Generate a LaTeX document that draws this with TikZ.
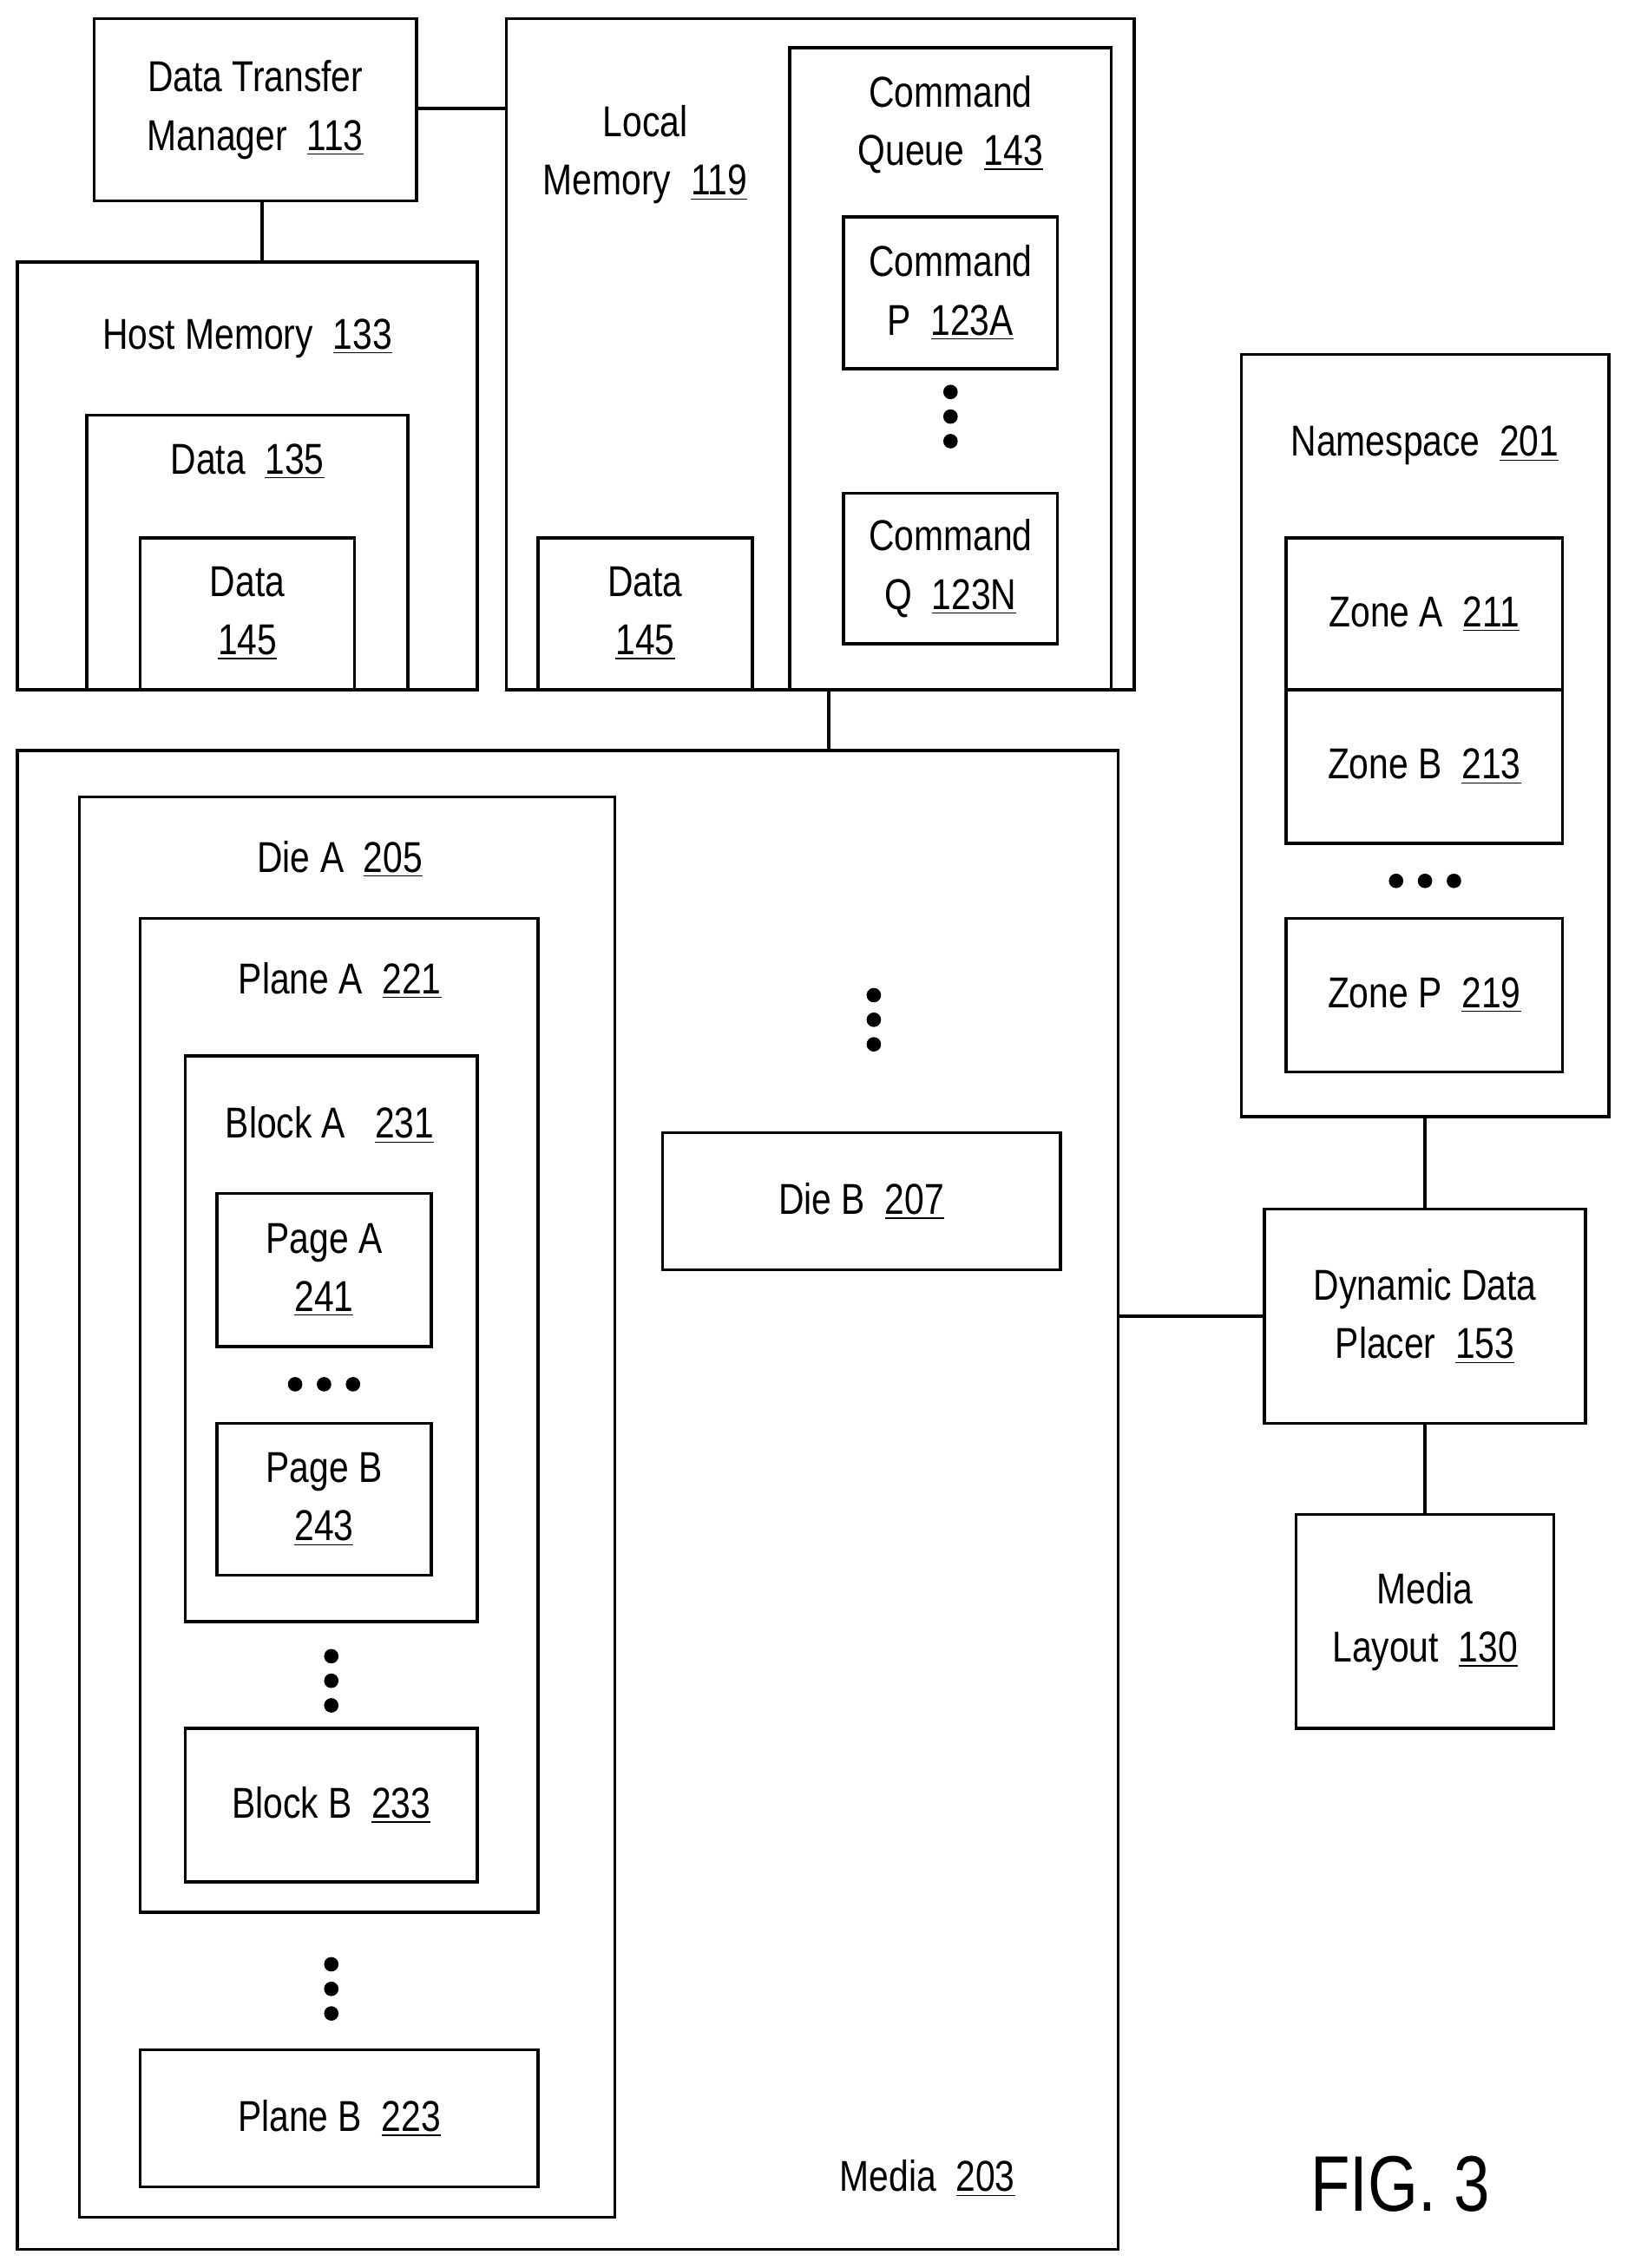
\documentclass[tikz,border=0pt]{standalone}
\usepackage{fontspec}
\setmainfont{Liberation Sans}[FakeStretch=0.82]
\usepackage{tikz}
\usetikzlibrary{positioning}
\tikzstyle{blk} = [draw, line width=1.2pt, inner sep=0pt]
\tikzstyle{lbl} = [align=center, inner sep=0pt, font=\fontsize{17}{23}\selectfont]
\tikzstyle{line} = [draw, line width=1.2pt]
\newcommand{\refnum}[1]{\underline{#1}}
% box by its corners (in px of the reference)
\newcommand{\blk}[5]{
  \node (#1) [blk, minimum width={(#4-#2)*0.02cm}, minimum height={(#5-#3)*0.02cm}]
    at ({(#2+#4)/2},{(#3+#5)/2}) {};}
\newcommand{\vdotsat}[2]{
  \foreach \d in {-17,0,17} \fill (#1,#2+\d) circle (5);}
\newcommand{\hdotsat}[2]{
  \foreach \d in {-20,0,20} \fill (#1+\d,#2) circle (5);}

\begin{document}
\begin{tikzpicture}[x=0.02cm, y=-0.02cm]
  \useasboundingbox (0,0) rectangle (1125,1568);

  % Draw diagram elements
  \blk{dtm}{65}{13}{288}{139}
  \node [lbl] at (dtm) {Data Transfer\\Manager \ \refnum{113}};
  \blk{lmem}{350}{13}{784}{477}
  \node [lbl] at (446,107) {Local\\Memory \ \refnum{119}};
  \blk{cq}{546}{33}{768}{477}
  \node [lbl] at (657,86) {Command\\Queue \ \refnum{143}};
  \blk{cmdp}{583}{150}{731}{255}
  \node [lbl] at (cmdp) {Command\\P \ \refnum{123A}};
  \vdotsat{657}{288}
  \blk{cmdq}{583}{341}{731}{445}
  \node [lbl] at (cmdq) {Command\\Q \ \refnum{123N}};
  \blk{ldata}{372}{372}{520}{477}
  \node [lbl] at (446,424) {Data\\\refnum{145}};

  \blk{hmem}{12}{181}{330}{477}
  \node [lbl] at (171,234) {Host Memory \ \refnum{133}};
  \blk{hdata}{60}{287}{282}{477}
  \node [lbl] at (171,319) {Data \ \refnum{135}};
  \blk{hdatai}{97}{372}{245}{477}
  \node [lbl] at (171,424) {Data\\\refnum{145}};

  \blk{media}{12}{519}{773}{1555}
  \node [lbl] at (641,1506) {Media \ \refnum{203}};
  \blk{diea}{55}{551}{425}{1533}
  \node [lbl] at (235,594) {Die A \ \refnum{205}};
  \blk{planea}{97}{635}{372}{1322}
  \node [lbl] at (235,678) {Plane A \ \refnum{221}};
  \blk{blocka}{128}{730}{330}{1121}
  \node [lbl] at (228,778) {Block A \ \ \refnum{231}};
  \blk{pagea}{150}{825}{298}{931}
  \node [lbl] at (pagea) {Page A\\\refnum{241}};
  \hdotsat{224}{957}
  \blk{pageb}{150}{984}{298}{1089}
  \node [lbl] at (pageb) {Page B\\\refnum{243}};
  \vdotsat{229}{1162}
  \blk{blockb}{128}{1195}{330}{1301}
  \node [lbl] at (blockb) {Block B \ \refnum{233}};
  \vdotsat{229}{1375}
  \blk{planeb}{97}{1417}{372}{1512}
  \node [lbl] at (planeb) {Plane B \ \refnum{223}};
  \vdotsat{604}{705}
  \blk{dieb}{458}{783}{733}{878}
  \node [lbl] at (dieb) {Die B \ \refnum{207}};

  \blk{ns}{858}{245}{1112}{772}
  \node [lbl] at (985,308) {Namespace \ \refnum{201}};
  \blk{zonea}{889}{372}{1080}{477}
  \node [lbl] at (zonea) {Zone A \ \refnum{211}};
  \blk{zoneb}{889}{477}{1080}{583}
  \node [lbl] at (zoneb) {Zone B \ \refnum{213}};
  \hdotsat{985}{609}
  \blk{zonep}{889}{635}{1080}{741}
  \node [lbl] at (zonep) {Zone P \ \refnum{219}};

  \blk{ddp}{874}{836}{1096}{984}
  \node [lbl] at (ddp) {Dynamic Data\\Placer \ \refnum{153}};
  \blk{ml}{896}{1047}{1074}{1195}
  \node [lbl] at (ml) {Media\\Layout \ \refnum{130}};

  \node (fig) [inner sep=0pt, font=\fontsize{31}{36}\selectfont] at (968,1510) {FIG. 3};

  % Draw connectors
  \path [line] (dtm.east |- 0,75) -- (lmem.west |- 0,75);
  \path [line] (dtm.south -| 181,0) -- (hmem.north -| 181,0);
  \path [line] (cq.south -| 573,0) -- (media.north -| 573,0);
  \path [line] (media.east |- 0,910) -- (ddp.west |- 0,910);
  \path [line] (ns.south) -- (ddp.north);
  \path [line] (ddp.south) -- (ml.north);
\end{tikzpicture}
\end{document}
